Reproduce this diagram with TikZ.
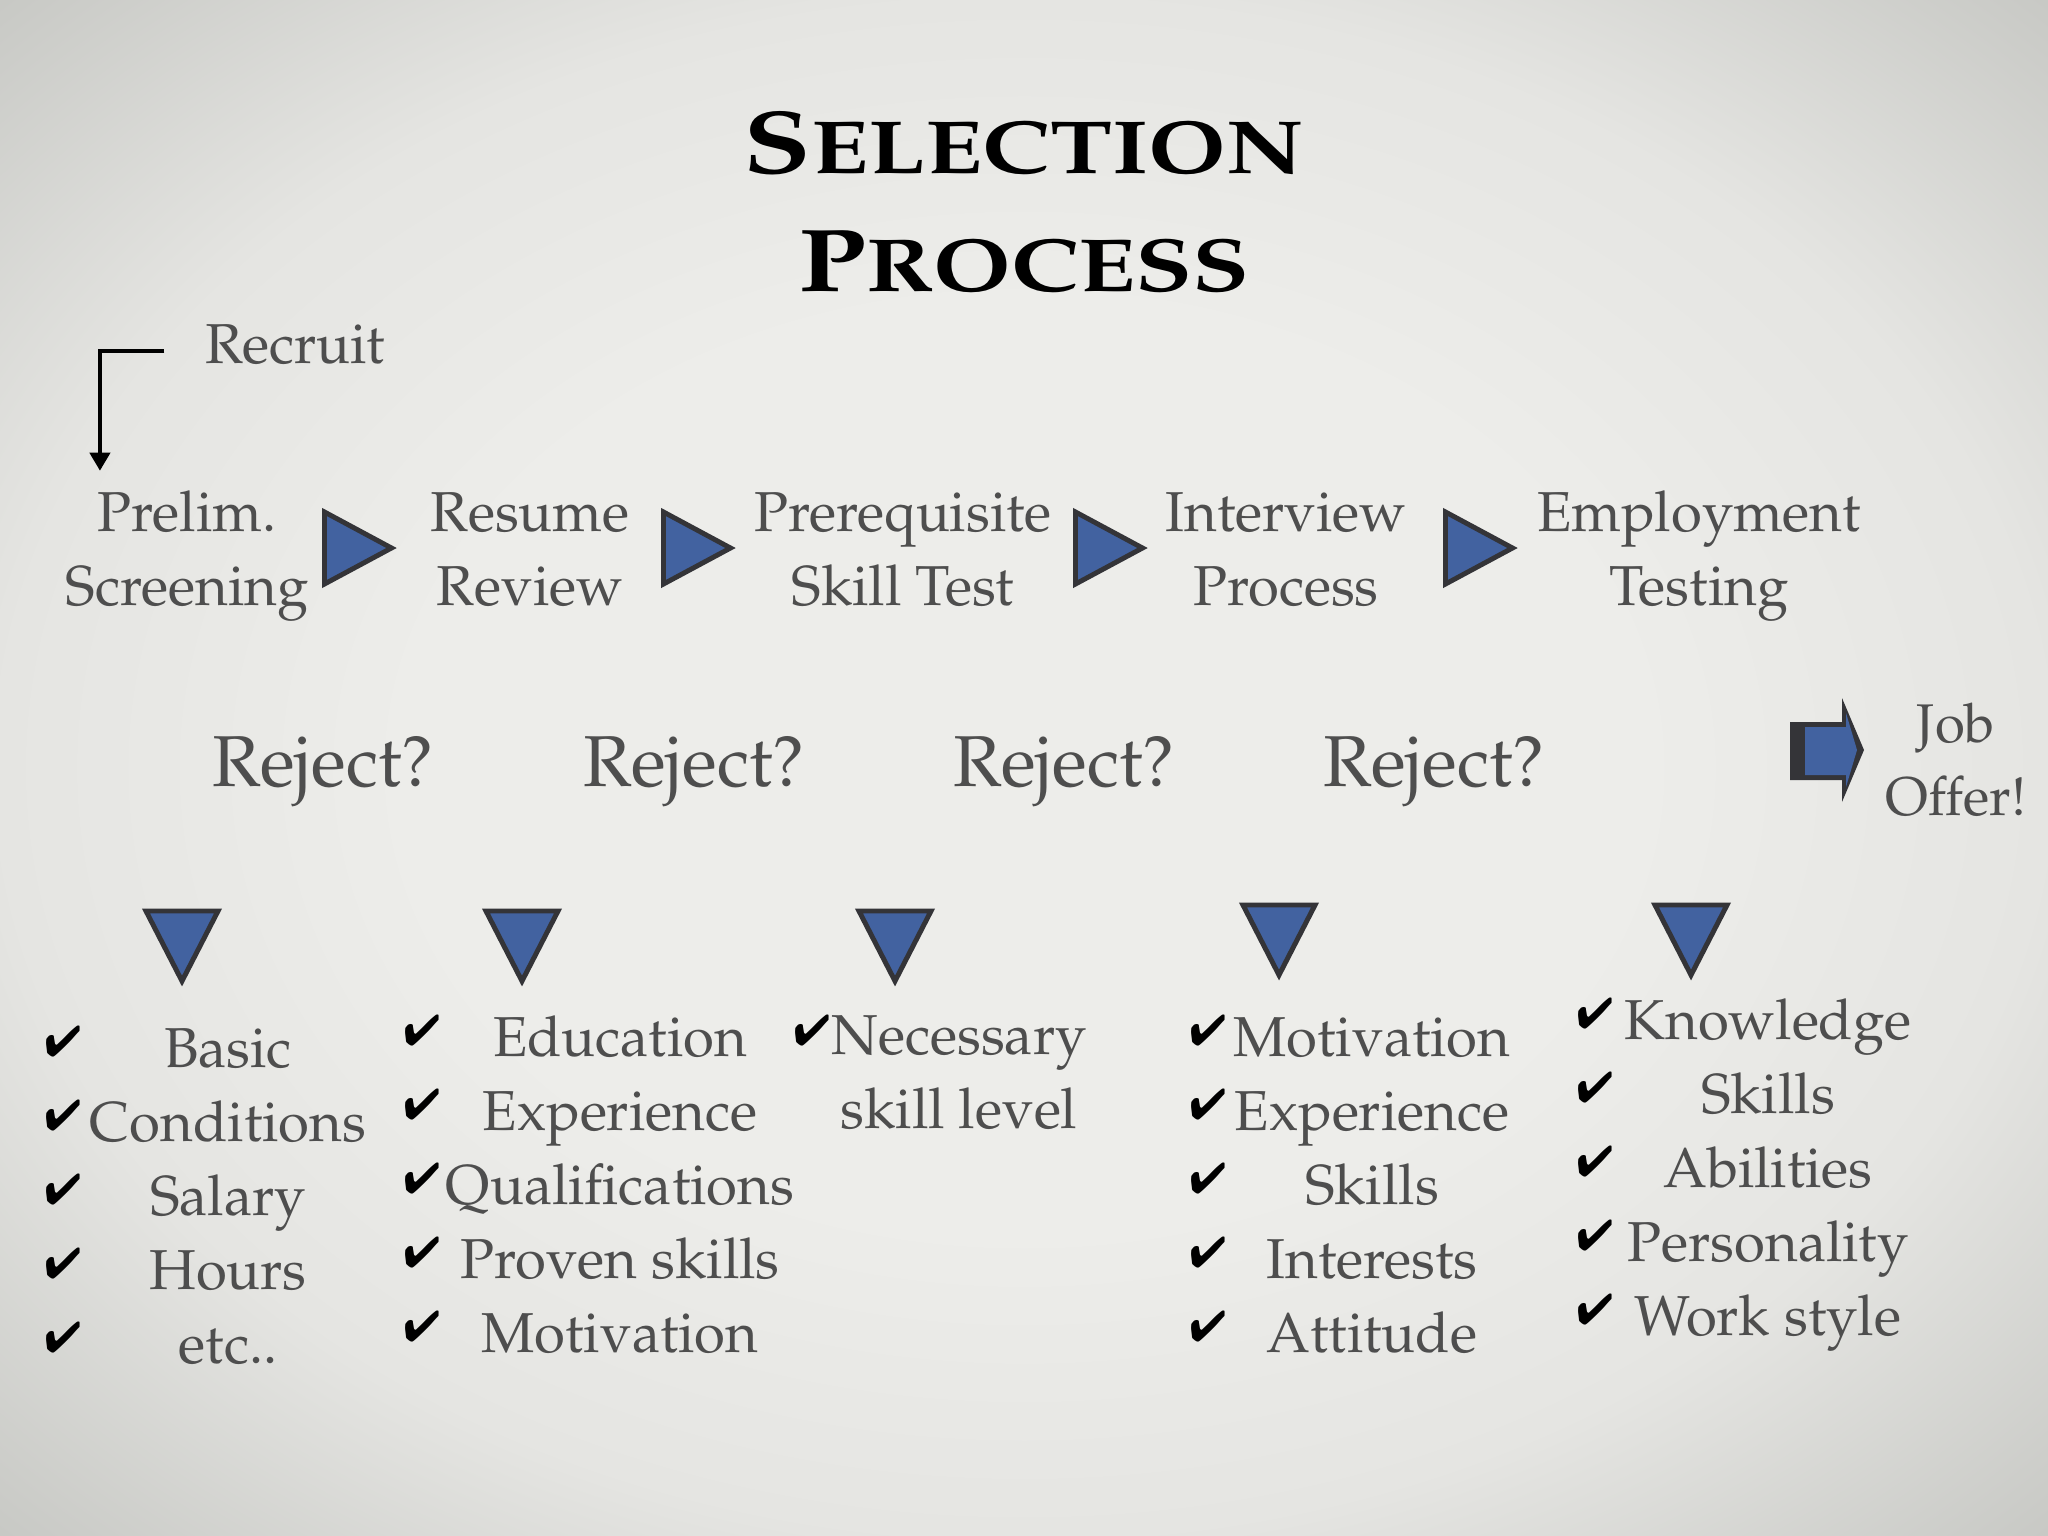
\documentclass[tikz,border=0pt]{standalone}
\usepackage[T1]{fontenc}
\usepackage{mathpazo}
\usepackage{pifont}
\usetikzlibrary{shapes.geometric, arrows.meta, positioning}

\definecolor{txtgray}{RGB}{78,78,78}
\definecolor{triblue}{RGB}{66,98,160}
\definecolor{tribord}{RGB}{52,52,56}
\definecolor{bgin}{RGB}{237,237,234}
\definecolor{bgmid}{RGB}{229,229,226}
\definecolor{bgout}{RGB}{198,199,195}

\pgfdeclareradialshading{slidebg}{\pgfpoint{0bp}{0bp}}{color(0bp)=(bgin); color(15bp)=(bgin); color(25bp)=(bgmid); color(36bp)=(bgout); color(50bp)=(bgout)}

% wide small caps for the title
\newcommand{\widecaps}[2]{\scalebox{1.24}[1]{{\fontsize{25.4}{33.3}\selectfont #1}#2}}

\tikzset{
  head/.style={font=\fontsize{16}{21}\selectfont, text=txtgray, align=center, inner sep=0pt, anchor=base},
  rej/.style={font=\fontsize{20.5}{24}\selectfont, text=txtgray, inner sep=0pt, anchor=base},
  joboffer/.style={font=\fontsize{15.5}{20.5}\selectfont, text=txtgray, align=center, inner sep=0pt, anchor=base},
  titletext/.style={font=\bfseries\fontsize{21.4}{33.3}\selectfont, text=black, align=center, inner sep=0pt, anchor=base},
  chk/.style={font=\fontsize{12.3}{14}\selectfont, inner sep=0pt, anchor=base},
  rtri/.style={isosceles triangle, isosceles triangle stretches, minimum width=0.72cm, minimum height=0.67cm, inner sep=0pt, fill=triblue, draw=tribord, line width=1.4pt},
  dtri/.style={rtri, minimum height=0.70cm, shape border rotate=270},
  recarrow/.style={line width=1.15pt, -{Triangle[width=0.2cm,length=0.18cm]}},
}

\begin{document}
\begin{tikzpicture}[x=0.01cm, y=-0.01cm]
	\shade[shading=slidebg] (0,0) rectangle (2048,1536);
	\useasboundingbox (0,0) rectangle (2048,1536);

	% title
	\node[titletext] (title) at (1024,291) {\widecaps{S}{ELECTION}\\\widecaps{P}{ROCESS}};

	% steps (base = last line)
	\node[head] (recruit)   at (295,363)  {Recruit};
	\node[head] (prelim)    at (187,605)  {Prelim.\\Screening};
	\node[head] (resume)    at (530,605)  {Resume\\Review};
	\node[head] (prereq)    at (903,605)  {Prerequisite\\Skill Test};
	\node[head] (interview) at (1286,605) {Interview\\Process};
	\node[head] (employ)    at (1699,605) {Employment\\Testing};

	\node[rtri] (r1) at (346,548)  {};
	\node[rtri] (r2) at (685,548)  {};
	\node[rtri] (r3) at (1097,548) {};
	\node[rtri] (r4) at (1467,548) {};

	\draw[recarrow] ([xshift=-0.4cm,yshift=-0.07cm]recruit.west) -| ([xshift=-0.87cm,yshift=0.19cm]prelim.north);

	% reject row
	\node[rej] (rej1) at (323,786)  {Reject?};
	\node[rej] (rej2) at (694,786)  {Reject?};
	\node[rej] (rej3) at (1064,786) {Reject?};
	\node[rej] (rej4) at (1434,786) {Reject?};

	\node[joboffer] (job) at (1956,815) {Job\\Offer!};
	\fill[tribord] (1790,722) -- (1842,722) -- (1842,698) -- (1864,750) -- (1842,802) -- (1842,780) -- (1790,780) -- cycle;
	\fill[triblue] (1805,727) -- (1846,727) -- (1846,713) -- (1857,750) -- (1846,787) -- (1846,775) -- (1805,775) -- cycle;

	% down arrows
	\node[dtri] (d1) at (182,933)  {};
	\node[dtri] (d2) at (522,933)  {};
	\node[dtri] (d3) at (895,933)  {};
	\node[dtri] (d4) at (1279,927) {};
	\node[dtri] (d5) at (1691,927) {};

	% criteria (base = last line)
	\node[head] (list1) at (228,1363)  {Basic\\Conditions\\Salary\\Hours\\etc..};
	\node[head] (list2) at (620,1352)  {Education\\Experience\\Qualifications\\Proven skills\\Motivation};
	\node[head] (list3) at (959,1128)  {Necessary\\skill level};
	\node[head] (list4) at (1372,1352) {Motivation\\Experience\\Skills\\Interests\\Attitude};
	\node[head] (list5) at (1768,1335) {Knowledge\\Skills\\Abilities\\Personality\\Work style};

	\foreach \k in {0,...,4} {
		\node[chk] (ca\k) at (63,1056+74*\k)   {\ding{52}};
		\node[chk] (cb\k) at (422,1045+74*\k)  {\ding{52}};
		\node[chk] (cd\k) at (1208,1045+74*\k) {\ding{52}};
		\node[chk] (ce\k) at (1595,1028+74*\k) {\ding{52}};
	}
	\node[chk] (cc0) at (812,1045) {\ding{52}};
\end{tikzpicture}
\end{document}
